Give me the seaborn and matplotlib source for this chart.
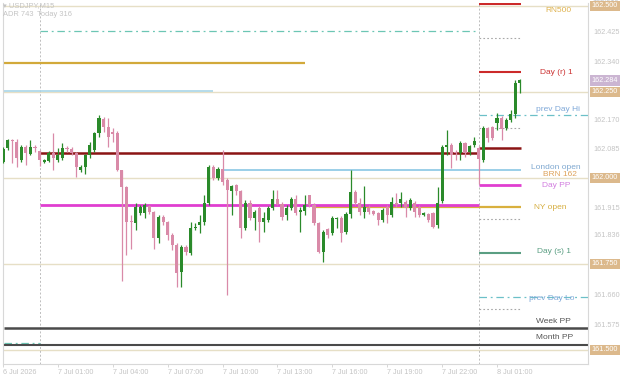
import numpy as np
import pandas as pd
import seaborn as sns
import matplotlib.pyplot as plt
from matplotlib.transforms import blended_transform_factory

# ---------------------------------
# data (USDJPY M15)
# ---------------------------------
symbol_text = '▾ USDJPY,M15'
adr_text = 'ADR 743'
today_text = 'Today 316'

opens = [
  162.046, 162.086, 162.110, 162.104, 162.051, 162.089, 162.069, 162.089,
  162.078, 162.046, 162.049, 162.072, 162.051, 162.057, 162.086, 162.083,
  162.072, 162.022, 162.031, 162.066, 162.081, 162.130, 162.171, 162.147,
  162.133, 162.130, 162.022, 161.973, 161.874, 161.868, 161.897, 161.897,
  161.918, 161.900, 161.827, 161.886, 161.871, 161.833, 161.804, 161.726,
  161.798, 161.781, 161.854, 161.862, 161.871, 161.926, 162.031, 161.999,
  162.025, 161.993, 161.961, 161.979, 161.961, 161.854, 161.926, 161.883,
  161.912, 161.871, 161.877, 161.912, 161.938, 161.923, 161.891, 161.912,
  161.938, 161.900, 161.903, 161.950, 161.921, 161.868, 161.784, 161.851,
  161.839, 161.880, 161.883, 161.842, 161.894, 161.958, 161.926, 161.900,
  161.912, 161.903, 161.897, 161.877, 161.915, 161.891, 161.926, 161.926,
  161.929, 161.912, 161.926, 161.915, 161.891, 161.894, 161.897, 161.862,
  161.932, 162.089, 162.095, 162.075, 162.072, 162.101, 162.075, 162.095,
  162.086, 162.051, 162.144, 162.147, 162.159, 162.174, 162.144, 162.168,
  162.185, 162.276 ]
highs = [
  162.089, 162.112, 162.112, 162.112, 162.095, 162.095, 162.110, 162.095,
  162.081, 162.054, 162.078, 162.130, 162.086, 162.101, 162.092, 162.089,
  162.075, 162.037, 162.069, 162.104, 162.133, 162.182, 162.177, 162.174,
  162.144, 162.136, 162.022, 161.976, 161.891, 161.926, 161.921, 161.926,
  161.921, 161.903, 161.891, 161.891, 161.874, 161.839, 161.810, 161.804,
  161.804, 161.871, 161.868, 161.891, 161.950, 162.037, 162.037, 162.031,
  162.081, 161.999, 161.979, 161.984, 161.964, 161.935, 161.935, 161.906,
  161.918, 161.900, 161.918, 161.964, 161.964, 161.929, 161.921, 161.944,
  161.950, 161.915, 161.950, 161.952, 161.926, 161.871, 161.848, 161.856,
  161.889, 161.886, 161.889, 161.900, 162.022, 161.964, 161.941, 161.976,
  161.921, 161.906, 161.900, 161.912, 161.921, 161.944, 161.955, 161.958,
  161.935, 161.941, 161.932, 161.921, 161.900, 161.897, 161.900, 161.973,
  162.095, 162.139, 162.101, 162.081, 162.107, 162.104, 162.095, 162.118,
  162.092, 162.150, 162.147, 162.150, 162.188, 162.179, 162.174, 162.197,
  162.284, 162.287 ]
lows = [
  162.043, 162.081, 162.043, 162.031, 162.046, 162.037, 162.066, 162.075,
  162.034, 162.043, 162.046, 162.022, 162.046, 162.051, 162.075, 162.066,
  162.002, 162.016, 162.013, 162.057, 162.075, 162.118, 162.133, 162.089,
  162.104, 162.019, 161.702, 161.775, 161.795, 161.848, 161.891, 161.883,
  161.894, 161.795, 161.810, 161.862, 161.819, 161.790, 161.682, 161.682,
  161.775, 161.775, 161.848, 161.839, 161.862, 161.921, 161.993, 161.993,
  161.981, 161.659, 161.891, 161.950, 161.827, 161.848, 161.877, 161.848,
  161.813, 161.842, 161.871, 161.906, 161.921, 161.877, 161.877, 161.906,
  161.891, 161.842, 161.891, 161.915, 161.862, 161.781, 161.755, 161.827,
  161.833, 161.856, 161.813, 161.836, 161.883, 161.921, 161.891, 161.883,
  161.894, 161.891, 161.862, 161.871, 161.868, 161.886, 161.915, 161.915,
  161.886, 161.906, 161.886, 161.886, 161.889, 161.871, 161.856, 161.856,
  161.926, 162.066, 162.028, 162.051, 162.051, 162.060, 162.066, 162.089,
  161.984, 162.046, 162.104, 162.110, 162.139, 162.110, 162.139, 162.162,
  162.174, 162.246 ]
closes = [
  162.083, 162.110, 162.107, 162.057, 162.089, 162.072, 162.089, 162.086,
  162.051, 162.051, 162.072, 162.057, 162.066, 162.086, 162.083, 162.072,
  162.031, 162.031, 162.066, 162.095, 162.130, 162.174, 162.147, 162.118,
  162.127, 162.022, 161.973, 161.871, 161.871, 161.915, 161.915, 161.921,
  161.900, 161.827, 161.886, 161.871, 161.833, 161.804, 161.723, 161.798,
  161.784, 161.856, 161.859, 161.871, 161.926, 162.031, 161.999, 162.025,
  161.987, 161.964, 161.976, 161.961, 161.854, 161.926, 161.883, 161.900,
  161.871, 161.883, 161.912, 161.938, 161.923, 161.886, 161.912, 161.938,
  161.897, 161.906, 161.921, 161.921, 161.868, 161.784, 161.842, 161.833,
  161.883, 161.883, 161.839, 161.894, 161.958, 161.926, 161.900, 161.915,
  161.900, 161.894, 161.877, 161.906, 161.891, 161.929, 161.921, 161.938,
  161.912, 161.935, 161.900, 161.891, 161.897, 161.877, 161.859, 161.926,
  162.089, 162.095, 162.066, 162.072, 162.101, 162.072, 162.092, 162.107,
  162.054, 162.144, 162.115, 162.115, 162.174, 162.142, 162.168, 162.185,
  162.276, 162.284 ]

tick_bars = [ 0, 12, 24, 36, 48, 60, 72, 84, 96, 108 ]
tick_labels = [ '6 Jul 2026', '7 Jul 01:00', '7 Jul 04:00', '7 Jul 07:00',
                '7 Jul 10:00', '7 Jul 13:00', '7 Jul 16:00', '7 Jul 19:00',
                '7 Jul 22:00', '8 Jul 01:00' ]
day_starts = [ 8, 104 ]

scale_prices = [ 162.425, 162.340, 162.170, 162.085,
                 161.915, 161.836, 161.660, 161.575 ]
scale_top = 162.510
round_prices = [ 162.500, 162.250, 162.000, 161.750, 161.500 ]
last_price = 162.284

# levels
gold_prev = 162.334
blue_prev = 162.253
prev_hi_prev = 162.427
prev_lo_prev = 161.519
close_line_7 = 162.072
close_line_8 = 162.087
day_r2 = 162.506
day_r1 = 162.308
adr_marks = [ 162.407, 162.145, 161.880, 161.618 ]
prev_day_hi = 162.182
prev_day_lo = 161.655
london_open = 162.024
day_pp_7 = 161.921
day_pp_8 = 161.981
ny_open = 161.917
day_s1 = 161.781
week_pp = 161.564
month_pp = 161.515

label_texts = [ 'RN500', 'Day (r) 1', 'prev Day Hi', 'London open', 'BRN 162',
                'Day PP', 'NY open', 'Day (s) 1', 'prev Day Lo', 'Week PP',
                'Month PP' ]
label_prices = [ 162.488, 162.308, 162.200, 162.031, 162.011, 161.979,
                 161.915, 161.787, 161.650, 161.583, 161.536 ]

df = pd.DataFrame( {
  'bar': np.arange( len( opens ) ),
  'open': opens, 'high': highs, 'low': lows, 'close': closes } )

sns.set_style( 'white' )
plt.rcParams[ 'font.family' ] = [ 'Liberation Sans', 'DejaVu Sans' ]

fig = plt.figure( figsize = ( 6.25, 3.78 ), dpi = 100 )
ax = fig.add_axes( [ 3 / 625, 14 / 378, 585 / 625, 361 / 378 ] )

X0, X1 = 0.22, 127.9
ax.set_xlim( X0, X1 )
ax.set_ylim( 161.4593, 162.5087 )
R = 113.3

# round number lines
for p in round_prices:
  ax.axhline( p, color = '#e6dfc6', lw = 1.0, zorder = 1 )

# vertical day separators
for d in day_starts:
  ax.axvline( d, color = '#bdbdbd', lw = 0.7, ls = ( 0, ( 2, 2 ) ), zorder = 1 )

def seg( p, a, b, color, lw = 1.2, ls = '-', z = 2 ):
  ax.hlines( p, a, b, colors = color, lw = lw, linestyles = ls, zorder = z )

dashdot = ( 0, ( 6, 3, 1.5, 3 ) )
seg( gold_prev, X0, 66.1, '#d2a93a', 1.6 )
seg( blue_prev, X0, 46, '#a9d6e8', 1.2 )
seg( prev_hi_prev, 8, 104, '#6cc6b4', 0.9, dashdot )
seg( prev_lo_prev, X0, 8, '#6cc6b4', 0.9, dashdot )
seg( close_line_7, 8, 104, '#8b1414', 1.8 )
seg( close_line_8, 104, R, '#8b1414', 1.8 )
seg( day_r2, 104, R, '#cc2a2a', 1.5 )
seg( day_r1, 104, R, '#cc2a2a', 1.5 )
for p in adr_marks:
  seg( p, 104, R, '#a8a8a8', 0.8, ( 0, ( 1.5, 2 ) ) )
seg( prev_day_hi, 104, X1, '#6cc0c8', 0.9, dashdot )
seg( prev_day_lo, 104, X1, '#6cc0c8', 0.9, dashdot )
seg( london_open, 48, R, '#93cbe6', 1.3 )
seg( day_pp_7, 8, 104, '#e03ed0', 2.0 )
seg( day_pp_8, 104, R, '#e03ed0', 2.0 )
seg( ny_open, 68, R, '#d9b03e', 1.6, z = 1.9 )
seg( day_s1, 104, R, '#5a9e82', 1.5 )
seg( week_pp, X0, X1, '#4a4a4a', 1.8 )
seg( month_pp, X0, X1, '#4a4a4a', 1.5 )

# candles
up = df[ 'close' ] >= df[ 'open' ]
cols = np.where( up, '#2a8a2a', '#d98aa8' )
ax.vlines( df[ 'bar' ], df[ 'low' ], df[ 'high' ], colors = cols, lw = 0.9, zorder = 3 )
body_lo = df[ [ 'open', 'close' ] ].min( axis = 1 )
body_h = ( df[ 'close' ] - df[ 'open' ] ).abs().clip( lower = 0.0025 )
ax.bar( df[ 'bar' ], body_h, bottom = body_lo, width = 0.68, color = cols,
        linewidth = 0, zorder = 4 )

# right-side level labels
label_cols = [ '#dfb24e', '#cc3333', '#7fa8d8', '#7fa8d0', '#dea35c', '#d27ee0',
               '#d6ae40', '#5a9e82', '#7fa8d8', '#555555', '#555555' ]
label_x = [ 121.4, 120.9, 121.3, 120.9, 121.8, 120.9, 119.6, 120.5, 120.0,
            120.3, 120.5 ]
for t, p, c, x in zip( label_texts, label_prices, label_cols, label_x ):
  ax.text( x, p, t, color = c, fontsize = 6, ha = 'center', va = 'center', zorder = 5 )

# price scale
ax.yaxis.tick_right()
ax.set_yticks( scale_prices )
ax.set_yticklabels( [ f'{p:.3f}' for p in scale_prices ] )
ax.tick_params( axis = 'y', length = 0, pad = 4, labelsize = 5.2, labelcolor = '#c4c4c4' )
tr = blended_transform_factory( ax.transAxes, ax.transData )
# top scale value, cut off by the window edge
ax.text( 1.0068, scale_top, f'{scale_top:.3f}', transform = tr, fontsize = 5.2,
         color = '#c4c4c4', va = 'bottom', ha = 'left', clip_on = False )
box_kw = dict( boxstyle = 'square,pad=0.25', ec = 'none' )
for p in round_prices:
  ax.text( 1.0065, p, f'{p:.3f}', transform = tr, fontsize = 5.2, color = 'white',
           va = 'center', ha = 'left', bbox = dict( fc = '#dcb98c', **box_kw ),
           clip_on = False, zorder = 6 )
ax.text( 1.0065, last_price, f'{last_price:.3f}', transform = tr, fontsize = 5.2,
         color = 'white', va = 'center', ha = 'left',
         bbox = dict( fc = '#cbb5d2', **box_kw ), clip_on = False )

# time axis
ax.set_xticks( tick_bars )
ax.set_xticklabels( tick_labels, ha = 'left' )
ax.tick_params( axis = 'x', length = 2, width = 0.6, color = '#d0d0d0', pad = 1.5,
                labelsize = 5.2, labelcolor = '#c4c4c4', bottom = True )

for s in ax.spines.values():
  s.set_color( '#d8d8d8' )
  s.set_linewidth( 0.8 )
ax.spines[ 'top' ].set_visible( False )

fig.text( 3 / 625, 1 - 6 / 378, symbol_text, fontsize = 5.4, color = '#c4c4c4',
          va = 'center' )
fig.text( 3 / 625, 1 - 15 / 378, adr_text, fontsize = 5.4, color = '#c4c4c4',
          va = 'center' )
fig.text( 37 / 625, 1 - 15 / 378, today_text, fontsize = 5.4, color = '#c4c4c4',
          va = 'center' )

fig.savefig( 'out.png', dpi = 100 )
